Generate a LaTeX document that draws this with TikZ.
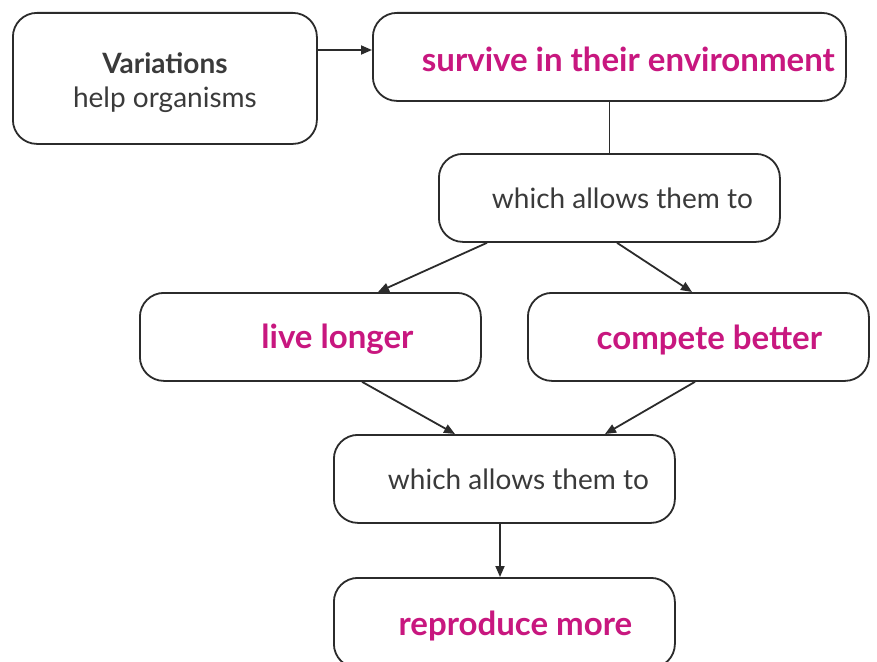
\documentclass[tikz,border=0pt]{standalone}
\usepackage{fontspec}
\setmainfont{Lato}
\usetikzlibrary{arrows.meta}
\definecolor{edge}{HTML}{2B2B2B}
\definecolor{ink}{HTML}{3A3A3A}
\definecolor{accent}{HTML}{C8177F}
\tikzset{
  box/.style={draw=edge, line width=1.8pt, rounded corners=24pt, fill=white,
    inner sep=0pt, anchor=north west, align=center, text=ink,
    font=\fontsize{28}{34}\selectfont},
  key/.style={box, text=accent, font=\fontsize{33}{38}\selectfont\bfseries},
  link/.style={draw=edge, line width=1.8pt},
  flow/.style={link, -{Triangle[length=11pt,width=9pt]}}
}
\begin{document}
\begin{tikzpicture}[x=1pt,y=-1pt]
\useasboundingbox (0,0) rectangle (877,661);
\node[box, minimum width=304pt, minimum height=131pt] (var) at (12,12)
  {\rule{0pt}{30pt}\textbf{Variations}\\help organisms};
\node[key, minimum width=473pt, minimum height=88pt] (surv) at (372,12)
  {\rule{0pt}{30pt}\hspace*{38pt}survive in their environment};
\node[box, minimum width=341pt, minimum height=88pt] (wh1) at (438,153)
  {\hspace*{26pt}which allows them to};
\node[key, minimum width=341pt, minimum height=88pt] (live) at (139,292)
  {\rule{0pt}{30pt}\hspace*{54pt}live longer};
\node[key, minimum width=341pt, minimum height=88pt] (comp) at (527,292)
  {\rule{0pt}{30pt}\hspace*{22pt}compete better};
\node[box, minimum width=341pt, minimum height=88pt] (wh2) at (333,434)
  {\hspace*{28pt}which allows them to};
\node[key, minimum width=341pt, minimum height=90pt] (repr) at (333,577)
  {\rule{0pt}{30pt}\hspace*{22pt}reproduce more};

\draw[flow] (var.east |- 0,50) -- (surv.west |- 0,50);
\draw[link] (surv.south) -- (wh1.north);
\draw[flow] (wh1.south -| 487,0) -- (live.north -| 378,0);
\draw[flow] (wh1.south -| 617,0) -- (comp.north -| 692,0);
\draw[flow] (live.south -| 362,0) -- (wh2.north -| 455,0);
\draw[flow] (comp.south -| 695,0) -- (wh2.north -| 605,0);
\draw[flow] (wh2.south -| 500,0) -- (repr.north -| 500,0);
\end{tikzpicture}
\end{document}
